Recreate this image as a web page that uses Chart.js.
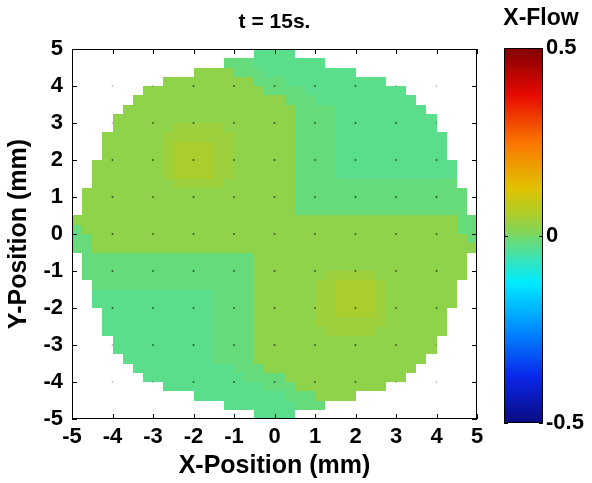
<!DOCTYPE html>
<html>
<head>
<meta charset="utf-8">
<script src="https://cdn.jsdelivr.net/npm/chart.js@4.4.1/dist/chart.umd.min.js"></script>
<style>
  html, body { margin: 0; padding: 0; background: #fff; }
  #wrap { position: relative; width: 592px; height: 483px; overflow: hidden; }
  #main { position: absolute; left: 0; top: 0; }
  #bar { position: absolute; left: 480px; top: 0; }
</style>
</head>
<body>
<div id="wrap">
  <canvas id="main" width="592" height="483"></canvas>
  <canvas id="bar" width="112" height="483"></canvas>
</div>
<script>
// ---- text ----
const titleText = 't = 15s.';
const xTitle = 'X-Position (mm)';
const yTitle = 'Y-Position (mm)';
const barTitle = 'X-Flow';

// ---- axes ----
const axisTicks = [-5, -4, -3, -2, -1, 0, 1, 2, 3, 4, 5];
const barTicks = [-0.5, 0, 0.5];
const barRange = [-0.5, 0.5];

// ---- flow field: 40 x 40 cells of 0.25 mm, rows from y = +5 down to y = -5 ----
const cellSize = 0.25;
const gridLeft = -5;
const gridTop = 5;
// X-flow level of each cell code ('.' = outside the chamber)
const levels = { c: -0.03, b: -0.018, a: 0.025, d: 0.04, e: 0.055 };
// run-length encoded rows: "<count><code>"
const fieldRows = [
  '18. 4c 18.',
  '15. 3b 7c 15.',
  '12. 4a 3b 9c 12.',
  '9. 9a 3b 10c 9.',
  '7. 12a 4b 10c 7.',
  '6. 15a 3b 10c 6.',
  '5. 17a 4b 9c 5.',
  '4. 18a 4b 10c 4.',
  '4. 6a 5d 7a 4b 10c 4.',
  '3. 6a 7d 6a 4b 11c 3.',
  '3. 6a 1d 4e 2d 6a 4b 11c 3.',
  '3. 6a 1d 4e 2d 6a 4b 11c 3.',
  '2. 7a 1d 4e 2d 6a 4b 12c 2.',
  '2. 7a 1d 4e 2d 6a 4b 12c 2.',
  '2. 8a 5d 7a 16b 2.',
  '1. 21a 17b 1.',
  '1. 21a 17b 1.',
  '1. 21a 17b 1.',
  '38a 2b',
  '1b 37a 2b',
  '2b 37a 1b',
  '2b 38a',
  '1. 17b 21a 1.',
  '1. 17b 21a 1.',
  '1. 17b 7a 5d 9a 1.',
  '2. 16b 6a 2d 4e 1d 7a 2.',
  '2. 12c 4b 6a 2d 4e 1d 7a 2.',
  '2. 12c 4b 6a 2d 4e 1d 7a 2.',
  '3. 11c 4b 6a 2d 4e 1d 6a 3.',
  '3. 11c 4b 6a 7d 6a 3.',
  '3. 11c 4b 7a 5d 7a 3.',
  '4. 10c 4b 18a 4.',
  '4. 10c 4b 18a 4.',
  '5. 9c 4b 17a 5.',
  '6. 10c 3b 15a 6.',
  '7. 10c 4b 12a 7.',
  '9. 10c 3b 9a 9.',
  '12. 9c 3b 4a 12.',
  '15. 7c 3b 15.',
  '18. 4c 18.'
];

// sensor marker positions (mm)
const markerX = [-4, -3, -2, -1, 0, 1, 2, 3, 4];
const markerY = [-4, -3, -2, -1, 0, 1, 2, 3, 4];

// colour map stops: [value, [r, g, b]]
const colorStops = [
  [-0.5,   [10, 10, 130]],
  [-0.375, [10, 40, 235]],
  [-0.25,  [0, 140, 255]],
  [-0.125, [0, 235, 255]],
  [-0.06,  [60, 228, 180]],
  [0,      [120, 215, 100]],
  [0.06,   [175, 205, 40]],
  [0.125,  [225, 195, 0]],
  [0.25,   [250, 115, 0]],
  [0.375,  [230, 10, 0]],
  [0.5,    [128, 0, 0]]
];

const FONT = "'Liberation Sans', Arial, Helvetica, sans-serif";
const bold = size => ({ family: FONT, size: size, weight: 'bold' });

function colorFor(v) {
  if (v <= colorStops[0][0]) return 'rgb(' + colorStops[0][1].join(',') + ')';
  for (let k = 1; k < colorStops.length; k++) {
    const [v1, c1] = colorStops[k];
    const [v0, c0] = colorStops[k - 1];
    if (v <= v1) {
      const f = (v - v0) / (v1 - v0);
      const c = c0.map((ch, n) => Math.round(ch + (c1[n] - ch) * f));
      return 'rgb(' + c.join(',') + ')';
    }
  }
  return 'rgb(' + colorStops[colorStops.length - 1][1].join(',') + ')';
}

function decodeRow(rle) {
  let out = '';
  for (const tok of rle.trim().split(/\s+/)) {
    const m = tok.match(/^(\d+)(.)$/);
    out += m[2].repeat(parseInt(m[1], 10));
  }
  return out;
}

// build cell points from the encoded rows
const cells = [];
fieldRows.forEach((rle, j) => {
  const row = decodeRow(rle);
  for (let i = 0; i < row.length; i++) {
    const code = row[i];
    if (code === '.') continue;
    cells.push({
      x: gridLeft + (i + 0.5) * cellSize,
      y: gridTop - (j + 0.5) * cellSize,
      v: levels[code]
    });
  }
});

const markers = [];
for (const my of markerY) for (const mx of markerX) markers.push({ x: mx, y: my });

// markers on the white surround are drawn faint
function insideChamber(p) {
  const ax = Math.abs(p.x), ay = Math.abs(p.y);
  return 3 * ax + ay < 15 && ax + ay < 7 && ax + 3 * ay < 15;
}

// fills each cell rectangle through the chart scales
const cellPlugin = {
  id: 'cells',
  beforeDatasetsDraw(chart) {
    const { ctx } = chart;
    const xs = chart.scales.x, ys = chart.scales.y;
    const half = cellSize / 2;
    ctx.save();
    for (const p of chart.data.datasets[0].data) {
      const l = Math.round(xs.getPixelForValue(p.x - half));
      const r = Math.round(xs.getPixelForValue(p.x + half));
      const t = Math.round(ys.getPixelForValue(p.y + half));
      const b = Math.round(ys.getPixelForValue(p.y - half));
      ctx.fillStyle = colorFor(p.v);
      ctx.fillRect(l, t, r - l, b - t);
    }
    ctx.restore();
  }
};

// box around the plot with inward tick marks on all four sides
const framePlugin = {
  id: 'frame',
  afterDraw(chart) {
    const { ctx, chartArea: a } = chart;
    const xs = chart.scales.x, ys = chart.scales.y;
    const L = 5;
    ctx.save();
    ctx.strokeStyle = '#000';
    ctx.lineWidth = 1;
    ctx.beginPath();
    for (const t of xs.ticks) {
      const px = Math.round(xs.getPixelForValue(t.value)) + 0.5;
      ctx.moveTo(px, a.bottom); ctx.lineTo(px, a.bottom - L);
      ctx.moveTo(px, a.top); ctx.lineTo(px, a.top + L);
    }
    for (const t of ys.ticks) {
      const py = Math.round(ys.getPixelForValue(t.value)) + 0.5;
      ctx.moveTo(a.left, py); ctx.lineTo(a.left + L, py);
      ctx.moveTo(a.right, py); ctx.lineTo(a.right - L, py);
    }
    ctx.stroke();
    ctx.strokeRect(Math.round(a.left) + 0.5, Math.round(a.top) + 0.5,
                   Math.round(a.right - a.left) - 1, Math.round(a.bottom - a.top) - 1);
    ctx.restore();
  }
};

new Chart(document.getElementById('main'), {
  type: 'scatter',
  data: {
    datasets: [
      { label: 'field', data: cells, pointRadius: 0, pointHoverRadius: 0 },
      { label: 'markers', data: markers, pointStyle: 'rect', pointRadius: 1.1, pointHoverRadius: 1.1,
        pointBorderWidth: 0,
        pointBackgroundColor: c => insideChamber(c.raw) ? 'rgba(15,25,15,0.8)' : 'rgba(0,0,0,0.28)' }
    ]
  },
  options: {
    responsive: false,
    animation: false,
    events: [],
    layout: { padding: { left: 0, right: 115, top: 0, bottom: 0 } },
    plugins: {
      legend: { display: false },
      tooltip: { enabled: false },
      title: {
        display: true, text: titleText, color: '#000', font: bold(21),
        fullSize: false, padding: { top: 9.4, bottom: 14.4 }
      }
    },
    scales: {
      x: {
        type: 'linear', min: -5, max: 5,
        afterBuildTicks: s => { s.ticks = axisTicks.map(v => ({ value: v })); },
        afterFit: s => { s.height = 64; },
        grid: { display: false, drawTicks: false },
        border: { display: false },
        ticks: { color: '#000', font: bold(22), padding: 5, maxRotation: 0, autoSkip: false },
        title: { display: true, text: xTitle, color: '#000', font: bold(25), padding: { top: 2, bottom: 2 } }
      },
      y: {
        type: 'linear', min: -5, max: 5,
        afterBuildTicks: s => { s.ticks = axisTicks.map(v => ({ value: v })); },
        afterFit: s => { s.width = 72; },
        grid: { display: false, drawTicks: false },
        border: { display: false },
        ticks: { color: '#000', font: bold(22), padding: 9, autoSkip: false },
        title: { display: true, text: yTitle, color: '#000', font: bold(25), padding: { top: 4, bottom: 4 } }
      }
    }
  },
  plugins: [cellPlugin, framePlugin]
});

// ---- colour bar ----
const barPlugin = {
  id: 'colorbar',
  beforeDatasetsDraw(chart) {
    const { ctx, chartArea: a } = chart;
    const ys = chart.scales.y;
    const n = 128;
    const span = barRange[1] - barRange[0];
    ctx.save();
    for (let k = 0; k < n; k++) {
      const v0 = barRange[0] + span * k / n;
      const v1 = barRange[0] + span * (k + 1) / n;
      const top = Math.round(ys.getPixelForValue(v1));
      const bot = Math.round(ys.getPixelForValue(v0));
      ctx.fillStyle = colorFor((v0 + v1) / 2);
      ctx.fillRect(a.left, top, a.right - a.left, bot - top);
    }
    ctx.strokeStyle = '#000';
    ctx.lineWidth = 1;
    ctx.strokeRect(Math.round(a.left) + 0.5, Math.round(a.top) + 0.5,
                   Math.round(a.right - a.left) - 1, Math.round(a.bottom - a.top) - 1);
    ctx.beginPath();
    for (const t of ys.ticks) {
      const py = Math.round(ys.getPixelForValue(t.value)) + 0.5;
      ctx.moveTo(a.left, py); ctx.lineTo(a.left + 4, py);
      ctx.moveTo(a.right, py); ctx.lineTo(a.right - 4, py);
    }
    ctx.stroke();
    ctx.restore();
  }
};

new Chart(document.getElementById('bar'), {
  type: 'scatter',
  data: { datasets: [{ label: 'bar', data: [], pointRadius: 0 }] },
  options: {
    responsive: false,
    animation: false,
    events: [],
    layout: { padding: { left: 10, right: 0, top: 0, bottom: 60 } },
    plugins: {
      legend: { display: false },
      tooltip: { enabled: false },
      title: { display: true, text: barTitle, color: '#000', font: bold(23), padding: { top: 5.2, bottom: 15.2 } }
    },
    scales: {
      x: { display: false, min: 0, max: 1 },
      // empty spacer on the left edge of the bar
      spacer: {
        type: 'linear', position: 'left', display: true, min: 0, max: 1,
        grid: { display: false, drawTicks: false }, border: { display: false },
        ticks: { display: false },
        afterFit: s => { s.width = 14; }
      },
      y: {
        position: 'right', min: barRange[0], max: barRange[1],
        afterBuildTicks: s => { s.ticks = barTicks.map(v => ({ value: v })); },
        afterFit: s => { s.width = 49; },
        grid: { display: false, drawTicks: false },
        border: { display: false },
        ticks: { color: '#000', font: bold(22), padding: 3, autoSkip: false,
                 callback: v => String(v) }
      }
    }
  },
  plugins: [barPlugin]
});
</script>
</body>
</html>
